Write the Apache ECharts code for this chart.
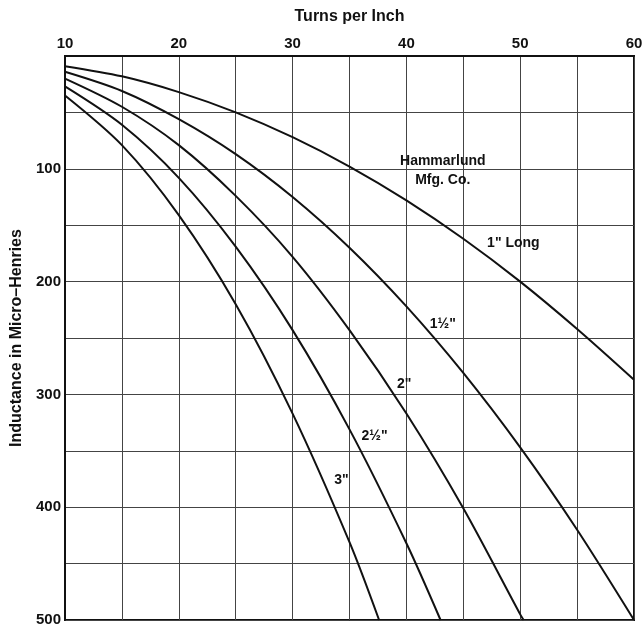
<!DOCTYPE html>
<html>
<head>
<meta charset="utf-8">
<script src="https://cdn.jsdelivr.net/npm/echarts@6/dist/echarts.min.js"></script>
<style>
html,body{margin:0;padding:0;background:#fff;}
#c{width:642px;height:625px;}
</style>
</head>
<body>
<div id="c"></div>
<script>
// Turns per inch vs inductance (micro-henries)
const coil1 = [[10,9],[15,18],[20,32],[25,50],[30,72],[35,98],[40,128],[45,162],[50,200],[55,242],[60,287]];
const coil15 = [[10,14],[15,31],[20,56],[25,87],[30,125],[35,170],[40,222],[45,281],[50,347],[55,420],[60,500]];
const coil2 = [[10,20],[15,45],[20,79],[25,124],[30,178],[35,243],[40,317],[45,401],[50,495],[50.3,500]];
const coil25 = [[10,27],[15,61],[20,108],[25,169],[30,243],[35,331],[40,432],[43,500]];
const coil3 = [[10,35],[15,79],[20,141],[25,220],[30,317],[35,431],[37.6,500]];
const curveLabels = [
  {value:[49.4,166], text:'1" Long'},
  {value:[43.2,238], text:'1½"'},
  {value:[39.8,291], text:'2"'},
  {value:[37.2,337], text:'2½"'},
  {value:[34.3,376], text:'3"'}
];
const noteText = ['Hammarlund', 'Mfg. Co.'];
const notePos = [43.2,102];

const font = '"Liberation Sans", Arial, sans-serif';
const lineStyle = {color:'#111', width:2};
function curve(name, data){
  return {name, type:'line', data, smooth:0.3, symbol:'none', lineStyle, silent:true, z:3};
}
const chart = echarts.init(document.getElementById('c'));
chart.setOption({
  animation:false,
  backgroundColor:'#fff',
  grid:{left:65, right:8, top:56, bottom:5, outerBoundsMode:'none', containLabel:false,
    show:true, borderColor:'#111', borderWidth:2, backgroundColor:'transparent'},
  xAxis:{
    type:'value', position:'top', min:10, max:60, interval:5,
    name:'Turns per Inch', nameLocation:'middle', nameGap:31,
    nameTextStyle:{fontFamily:font, fontWeight:'bold', fontSize:16, color:'#111'},
    axisLine:{show:true, lineStyle:{color:'#111', width:2}},
    axisTick:{show:false},
    axisLabel:{margin:5, fontFamily:font, fontWeight:'bold', fontSize:15, color:'#111',
      formatter:v => (v % 10 === 0 ? String(v) : '')},
    splitLine:{show:true, lineStyle:{color:'#444', width:1}}
  },
  yAxis:{
    type:'value', inverse:true, min:0, max:500, interval:50,
    name:'Inductance in Micro–Henries', nameLocation:'middle', nameGap:39, nameRotate:90,
    nameTextStyle:{fontFamily:font, fontWeight:'bold', fontSize:16, color:'#111'},
    axisLine:{show:true, lineStyle:{color:'#111', width:2}},
    axisTick:{show:false},
    axisLabel:{margin:4, fontFamily:font, fontWeight:'bold', fontSize:15, color:'#111',
      formatter:v => (v % 100 === 0 && v !== 0 ? String(v) : '')},
    splitLine:{show:true, lineStyle:{color:'#444', width:1}}
  },
  series:[
    curve('1" Long', coil1),
    curve('1½"', coil15),
    curve('2"', coil2),
    curve('2½"', coil25),
    curve('3"', coil3),
    {
      type:'scatter', symbolSize:0, silent:true, z:5, itemStyle:{opacity:1},
      data:curveLabels.map(d => ({value:d.value, text:d.text})),
      label:{show:true, position:'inside', formatter:p => p.data.text,
        fontFamily:font, fontWeight:'bold', fontSize:14, color:'#111', opacity:1}
    },
    {
      type:'scatter', symbolSize:0, silent:true, z:5, itemStyle:{opacity:1},
      data:[{value:notePos}],
      label:{show:true, position:'inside', formatter:noteText.join('\n'), lineHeight:19,
        align:'center', fontFamily:font, fontWeight:'bold', fontSize:14, color:'#111', opacity:1}
    }
  ]
});
</script>
</body>
</html>
